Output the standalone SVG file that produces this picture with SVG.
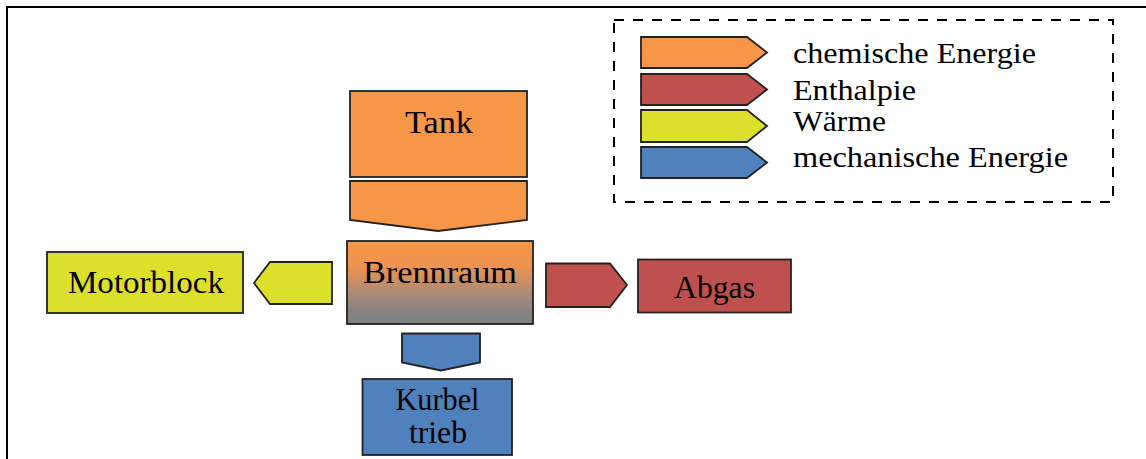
<svg xmlns="http://www.w3.org/2000/svg" width="1146" height="459" viewBox="0 0 1146 459">
  <defs>
    <linearGradient id="brennGrad" x1="0" y1="0" x2="0" y2="1">
      <stop offset="0" stop-color="#F79646"/>
      <stop offset="0.3" stop-color="#EE934F"/>
      <stop offset="0.65" stop-color="#A88A7A"/>
      <stop offset="0.9" stop-color="#828282"/>
      <stop offset="1" stop-color="#808080"/>
    </linearGradient>
  </defs>
  <style>
    .box { stroke: #222; stroke-width: 1.8; }
    .chem { fill: #F79646; }
    .enth { fill: #C0504D; }
    .heat { fill: #DDE02A; }
    .mech { fill: #4F81BD; }
    .lbl { font-family: "Liberation Serif", "Times New Roman", serif; font-size: 32.5px; fill: #000; }
    .leg { font-family: "Liberation Serif", "Times New Roman", serif; font-size: 30px; fill: #000; }
  </style>

  <rect width="1146" height="459" fill="#fff"/>
  <!-- outer frame, runs past right and bottom edges -->
  <rect x="7" y="7" width="1160" height="470" fill="none" stroke="#000" stroke-width="2"/>

  <!-- legend -->
  <g id="legend">
    <rect x="614" y="20" width="499" height="182" fill="none" stroke="#000" stroke-width="2" stroke-dasharray="10,9"/>
    <path class="box chem" d="M641 37 H747 L767 52.5 L747 68 H641 Z"/>
    <path class="box enth" d="M641 74 H747 L767 89.5 L747 105 H641 Z"/>
    <path class="box heat" d="M641 110 H747 L767 126 L747 142 H641 Z"/>
    <path class="box mech" d="M641 147 H747 L767 162.5 L747 178 H641 Z"/>
    <text class="leg" x="793" y="62.5" textLength="243" lengthAdjust="spacingAndGlyphs">chemische Energie</text>
    <text class="leg" x="793" y="99.5" textLength="123" lengthAdjust="spacingAndGlyphs">Enthalpie</text>
    <text class="leg" x="793" y="131" textLength="93" lengthAdjust="spacingAndGlyphs">Wärme</text>
    <text class="leg" x="793" y="167" textLength="275" lengthAdjust="spacingAndGlyphs">mechanische Energie</text>
  </g>

  <g id="tank">
    <rect class="box chem" x="350" y="91" width="177" height="86"/>
    <text class="lbl" x="439" y="133" text-anchor="middle" textLength="68" lengthAdjust="spacingAndGlyphs">Tank</text>
  </g>

  <g id="brennraum">
    <rect class="box" x="347" y="241" width="186" height="83" fill="url(#brennGrad)"/>
    <text class="lbl" x="440" y="282.5" text-anchor="middle" textLength="154" lengthAdjust="spacingAndGlyphs">Brennraum</text>
  </g>

  <g id="motorblock">
    <rect class="box heat" x="47" y="252" width="196" height="61"/>
    <text class="lbl" x="146" y="292.5" text-anchor="middle" textLength="156" lengthAdjust="spacingAndGlyphs">Motorblock</text>
  </g>

  <g id="abgas">
    <rect class="box enth" x="638" y="259.5" width="153" height="53"/>
    <text class="lbl" x="714.5" y="298" text-anchor="middle" textLength="81" lengthAdjust="spacingAndGlyphs">Abgas</text>
  </g>

  <g id="kurbeltrieb">
    <rect class="box mech" x="362.5" y="379" width="149.5" height="76"/>
    <text class="lbl" x="437.5" y="410" text-anchor="middle" textLength="84" lengthAdjust="spacingAndGlyphs">Kurbel</text>
    <text class="lbl" x="438" y="443" text-anchor="middle" textLength="58" lengthAdjust="spacingAndGlyphs">trieb</text>
  </g>

  <!-- energy flow arrows -->
  <g id="connectors">
    <path class="box chem" d="M350 181 H527 V220 L438 231 L350 220 Z"/>
    <path class="box heat" d="M332 262 V304 H270 L254 283 L270 262 Z"/>
    <path class="box enth" d="M546 263.5 H610 L627 285 L610 307 H546 Z"/>
    <path class="box mech" d="M402 333.5 H480 V362.5 L441 370.5 L402 362.5 Z"/>
  </g>
</svg>
